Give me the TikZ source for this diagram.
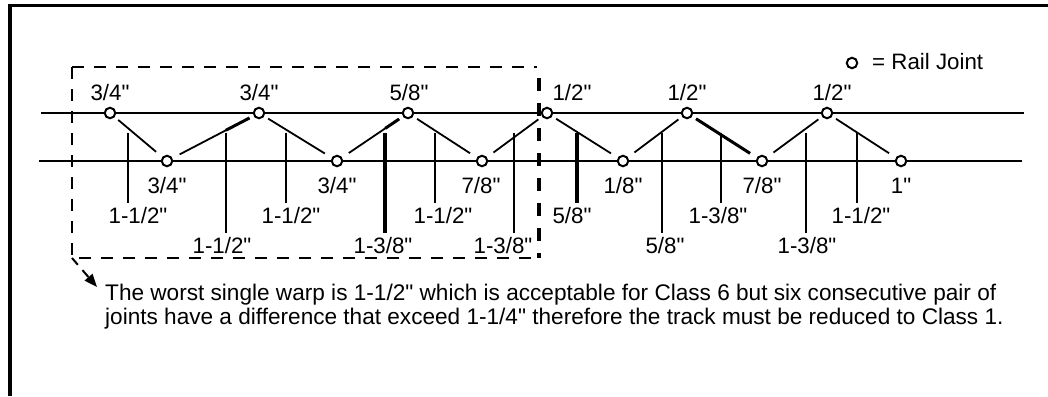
\documentclass[tikz,border=0pt]{standalone}
\usepackage{fontspec}
\setmainfont{Liberation Sans}[Ligatures=TeXOff]
\usetikzlibrary{arrows.meta,calc}
\begin{document}
\begin{tikzpicture}[x=1pt,y=-1pt,
  joint/.style={circle,draw,line width=2pt,fill=white,minimum size=10.5pt,inner sep=0pt},
  rail/.style={line width=2pt},
  diag/.style={line width=1.8pt},
  thickdiag/.style={line width=3pt},
  meas/.style={line width=2pt},
  thickmeas/.style={line width=3.4pt},
  lbl/.style={font=\fontsize{22.3}{24}\selectfont,anchor=base,inner sep=0pt},
  notefont/.style={font=\fontsize{22.6}{24}\selectfont},
  boxline/.style={line width=2pt,dash pattern=on 12pt off 10pt},
  frame/.style={line width=3.4pt},
]
\useasboundingbox (0,0) rectangle (1048,396);
% frame
\draw[frame] (10,396) -- (10,5.7) -- (1048,5.7);
% dashed box
\draw[boxline] (72,67) -- (537,67);
\draw[boxline] (72,67) -- (72,258) -- (539,258);
\draw[line width=3.5pt,dash pattern=on 13pt off 12pt] (539,78) -- (539,258);
% rails
\coordinate (rt0) at (41,113);  \coordinate (rt1) at (1024,113);
\coordinate (rb0) at (39,161);  \coordinate (rb1) at (1022,161);
\draw[rail] (rt0) -- (rt1);
\draw[rail] (rb0) -- (rb1);
% measurement verticals
\foreach \x/\y/\s in {128/203/meas,226/233/meas,286/203/meas,385/233/thickmeas,435/203/meas,514/233/meas,577/203/thickmeas,662/233/meas,721/203/meas,806/233/meas,857/203/meas}
  \draw[\s] (\x,132.5) -- (\x,\y);
% joints
\node[joint] (t1) at (110,113) {};
\node[joint] (t2) at (259,113) {};
\node[joint] (t3) at (408,113) {};
\node[joint] (t4) at (547,113) {};
\node[joint] (t5) at (687,113) {};
\node[joint] (t6) at (827,113) {};
\node[joint] (b1) at (167,161) {};
\node[joint] (b2) at (337,161) {};
\node[joint] (b3) at (482,161) {};
\node[joint] (b4) at (623,161) {};
\node[joint] (b5) at (762,161) {};
\node[joint] (b6) at (901,161) {};
% diagonals
\foreach \a/\b in {t1/b1,t2/b2,t3/b3,t4/b4,t5/b5,t6/b6}
  \draw[diag,shorten <=4.5pt,shorten >=8pt] (\a) -- (\b);
\foreach \a/\b in {b1/t2,b2/t3,b3/t4,b4/t5,b5/t6}
  \draw[diag,shorten <=8pt,shorten >=4.5pt] (\a) -- (\b);
\draw[thickdiag,shorten >=4.5pt] ($(b1)!0.64!(t2)$) -- (t2);
\draw[thickdiag,shorten >=4.5pt] ($(b2)!0.68!(t3)$) -- (t3);
\draw[thickdiag,shorten <=4.5pt,shorten >=8pt] (t5) -- (b5);
% top labels
\node[lbl] (lt1) at (110,100) {3/4"};
\node[lbl] (lt2) at (259,100) {3/4"};
\node[lbl] (lt3) at (409,100) {5/8"};
\node[lbl] (lt4) at (572,100) {1/2"};
\node[lbl] (lt5) at (687,100) {1/2"};
\node[lbl] (lt6) at (832,100) {1/2"};
% bottom joint labels
\node[lbl] (lb1) at (167,193) {3/4"};
\node[lbl] (lb2) at (337,193) {3/4"};
\node[lbl] (lb3) at (481,193) {7/8"};
\node[lbl] (lb4) at (623,193) {1/8"};
\node[lbl] (lb5) at (762,193) {7/8"};
\node[lbl] (lb6) at (901,193) {1"};
% warp labels
\node[lbl] (w1) at (138,223) {1-1/2"};
\node[lbl] (w2) at (222,253) {1-1/2"};
\node[lbl] (w3) at (291,223) {1-1/2"};
\node[lbl] (w4) at (383,253) {1-3/8"};
\node[lbl] (w5) at (443,223) {1-1/2"};
\node[lbl] (w6) at (503,253) {1-3/8"};
\node[lbl] (w7) at (572,223) {5/8"};
\node[lbl] (w8) at (665,253) {5/8"};
\node[lbl] (w9) at (718,223) {1-3/8"};
\node[lbl] (w10) at (807,253) {1-3/8"};
\node[lbl] (w11) at (861,223) {1-1/2"};
% legend
\node[joint] (leg) at (852,63) {};
\node[lbl,anchor=base west] (legt) at (872,70) {= Rail Joint};
% note
\coordinate (corner) at (72,258);
\node[lbl,notefont,anchor=base west,align=left] (note) at (105,324)
  {The worst single warp is 1-1/2" which is acceptable for Class 6 but six consecutive pair of\\
   joints have a difference that exceed 1-1/4" therefore the track must be reduced to Class 1.};
\draw[line width=2pt,dash pattern=on 9pt off 7pt,-{Triangle[length=13pt,width=10pt]}] (corner) -- (97,287);
\end{tikzpicture}
\end{document}
